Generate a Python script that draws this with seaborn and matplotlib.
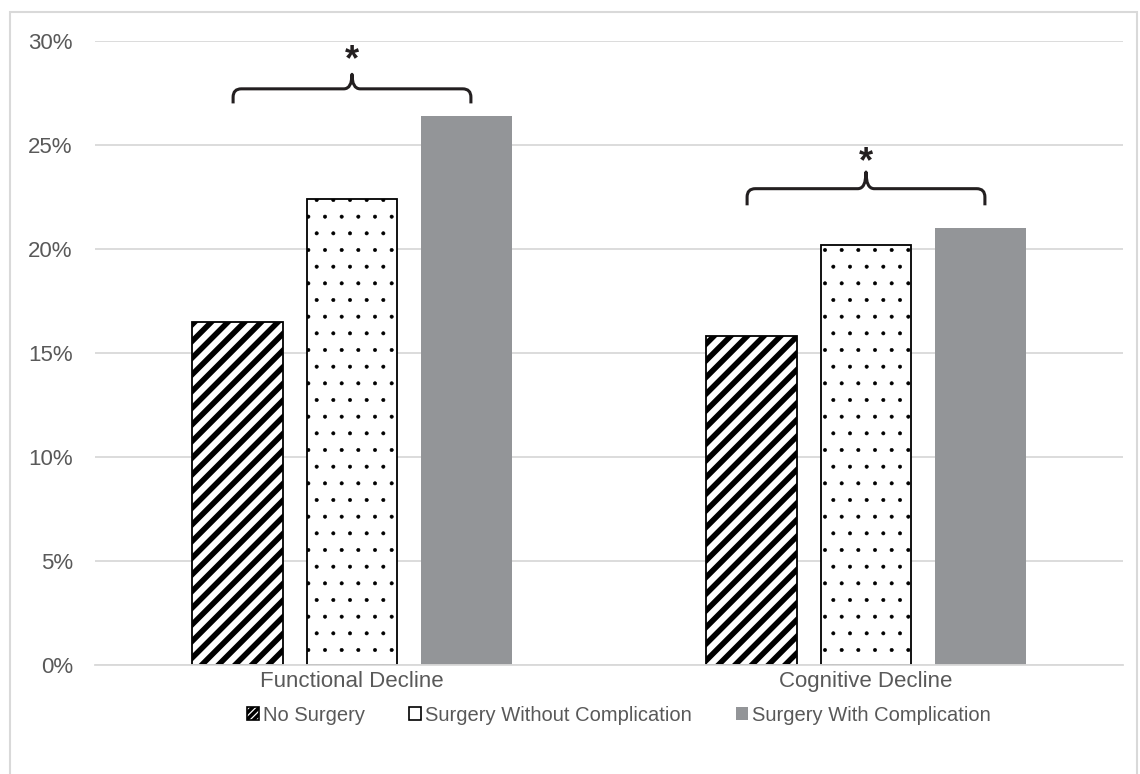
import matplotlib
matplotlib.use("Agg")
import matplotlib.pyplot as plt
from matplotlib.path import Path
from matplotlib.patches import PathPatch, Rectangle, Patch
import seaborn as sns
import pandas as pd

# data
outcomes = ["Functional Decline", "Cognitive Decline"]
groups = ["No Surgery", "Surgery Without Complication", "Surgery With Complication"]
no_surgery = [16.5, 15.8]
surgery_no_comp = [22.4, 20.2]
surgery_comp = [26.4, 21.0]
# significance braces: bottom, bar level, tip, star height (in %)
brace_bottom = [27.0, 22.1]
brace_mid = [27.7, 22.9]
brace_tip = [28.4, 23.7]
star_y = [29.05, 24.15]

rows = []
for i, oc in enumerate(outcomes):
    for g, vals in zip(groups, [no_surgery, surgery_no_comp, surgery_comp]):
        rows.append({"outcome": oc, "group": g, "value": vals[i]})
df = pd.DataFrame(rows)

sns.set_theme(style="white")
plt.rcParams["font.family"] = ["Liberation Sans", "DejaVu Sans"]

face = {"No Surgery": "white", "Surgery Without Complication": "white",
        "Surgery With Complication": "#939598"}
hatches = ["//", ".", ""]
edges = ["black", "black", "#939598"]
hatch_lw = [4.0, 0.4, 1.0]
txt = "#595959"
grid_c = "#d9d9d9"

fig = plt.figure(figsize=(11.4, 7.74), dpi=100)
ax = fig.add_axes([95 / 1140, 109 / 774, (1123 - 95) / 1140, (665 - 41) / 774])

sns.barplot(data=df, x="outcome", y="value", hue="group", hue_order=groups,
            order=outcomes, palette=face, saturation=1, width=0.67, gap=0.21,
            ax=ax, legend=False)

for cont, h, ec, hl in zip(ax.containers, hatches, edges, hatch_lw):
    for bar in cont:
        bar.set_hatch(h)
        bar.set_edgecolor(ec)
        bar.set_linewidth(1.3 if ec == "black" else 0)
        try:
            bar.set_hatch_linewidth(hl)
        except AttributeError:
            pass

ax.set_ylim(0, 30)
ax.set_xlim(-0.5, 1.5)
ax.set_yticks(range(0, 31, 5))
ax.set_yticklabels([f"{v}%" for v in range(0, 31, 5)])
ax.yaxis.grid(True, color=grid_c, lw=1.3)
ax.set_axisbelow(True)
for s in ["top", "right", "left"]:
    ax.spines[s].set_visible(False)
ax.spines["bottom"].set_color(grid_c)
ax.spines["bottom"].set_linewidth(1.3)
ax.tick_params(axis="y", length=0, pad=16, labelsize=16, labelcolor=txt)
ax.tick_params(axis="x", length=0, pad=4, labelsize=16, labelcolor=txt)
ax.set_xlabel("")
ax.set_ylabel("")

# braces from first to last bar centre of each outcome
first = list(ax.containers[0])
last = list(ax.containers[2])
rx = 0.016
for i in range(len(outcomes)):
    x0 = first[i].get_x() + first[i].get_width() / 2 - 0.008
    x1 = last[i].get_x() + last[i].get_width() / 2 + 0.008
    xm = (x0 + x1) / 2
    yb, yh, yt = brace_bottom[i], brace_mid[i], brace_tip[i]
    ry = 0.4
    verts = [(x0, yb), (x0, yh - ry), (x0, yh), (x0 + rx, yh),
             (xm - rx, yh), (xm, yh), (xm, yt),
             (xm, yh), (xm + rx, yh),
             (x1 - rx, yh), (x1, yh), (x1, yh - ry), (x1, yb)]
    codes = [Path.MOVETO, Path.LINETO, Path.CURVE3, Path.CURVE3,
             Path.LINETO, Path.CURVE3, Path.CURVE3,
             Path.CURVE3, Path.CURVE3,
             Path.LINETO, Path.CURVE3, Path.CURVE3, Path.LINETO]
    ax.add_patch(PathPatch(Path(verts, codes), fill=False, lw=2.2,
                           ec="#231f20", capstyle="butt", joinstyle="round"))
    ax.text(xm, star_y[i], "*", ha="center", va="center", fontsize=26,
            fontweight="bold", color="#231f20", clip_on=False)

handles = [Patch(facecolor=face[g], edgecolor=ec, hatch=h, lw=1.2 if ec == "black" else 0)
           for g, h, ec in zip(groups, ["/////", "", ""], edges)]
leg = fig.legend(handles, groups, loc="center", bbox_to_anchor=(0.543, 0.076), ncol=3,
                 frameon=False, fontsize=14.5, labelcolor=txt, handlelength=0.6,
                 handleheight=0.6, handletextpad=0.2, columnspacing=2.2)
try:
    leg.legend_handles[0].set_hatch_linewidth(2.5)
except AttributeError:
    pass

fig.patches.append(Rectangle((10 / 1140, -0.01), 1127 / 1140, 1.01 - 12 / 774,
                             transform=fig.transFigure, fill=False, ec=grid_c, lw=1.5))

fig.savefig("out.png", dpi=100)
